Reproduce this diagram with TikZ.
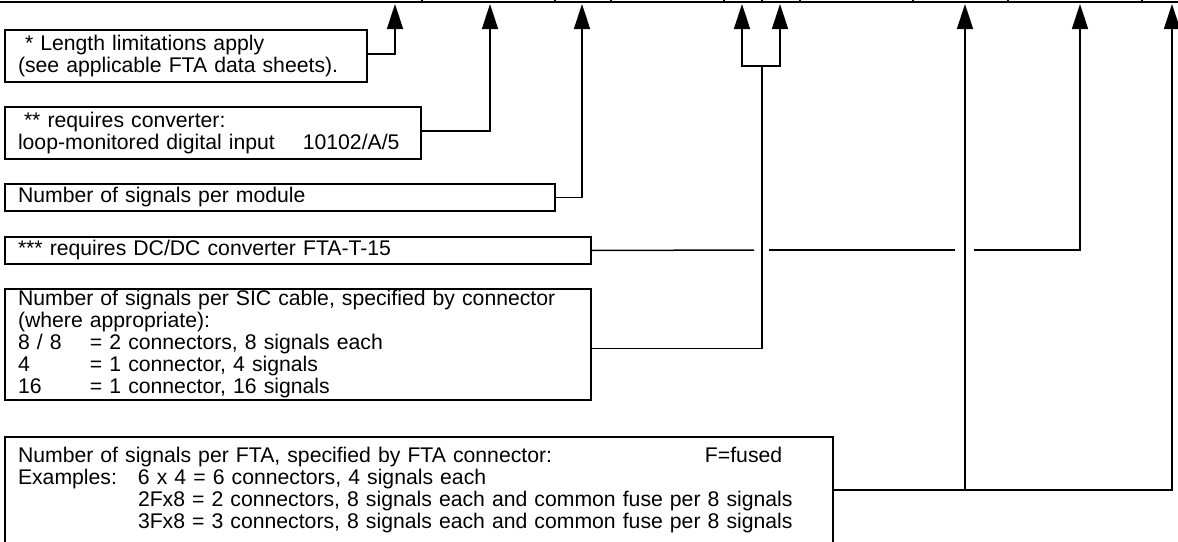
\documentclass[tikz,border=0pt]{standalone}
\usepackage{fontspec}
\setmainfont{Liberation Sans}
\usetikzlibrary{arrows.meta}
\begin{document}
\begin{tikzpicture}[x=1pt,y=-1pt,
  box/.style={draw,line width=2pt,anchor=north west,inner xsep=13pt,inner ysep=0pt,outer sep=0pt,align=left,font=\fontsize{21.2}{22}\selectfont},
  conn/.style={line width=1.5pt},
  arr/.style={conn,-{Triangle[length=25pt,width=16pt]}},
  toprule/.style={line width=2pt},
  tick/.style={line width=1.2pt}]
\useasboundingbox (0,0) rectangle (1178,541);
\clip (0,0) rectangle (1178,541);
% top rule with column ticks
\draw[toprule] (0,2) -- (1178,2);
\foreach \x in {422,555,611,724,762,800,913,1008,1142} \draw[tick] (\x,0) -- (\x,2);
% arrow tips
\coordinate (t1) at (395,4);
\coordinate (t2) at (490,4);
\coordinate (t3) at (582,4);
\coordinate (t4) at (742,4);
\coordinate (t5) at (780,4);
\coordinate (t6) at (965,4);
\coordinate (t7) at (1080,4);
\coordinate (t8) at (1172,4);
% boxes
\node[box,text width=336pt,minimum height=52pt] (b1) at (5,30)
  {\hspace*{7pt}* Length limitations apply\\(see applicable FTA data sheets).};
\node[box,text width=390pt,minimum height=52pt] (b2) at (5,107)
  {\hspace*{6pt}** requires converter:\\loop-monitored digital input\hspace*{28pt}10102/A/5};
\node[box,text width=524pt,minimum height=27pt] (b3) at (5,184)
  {Number of signals per module};
\node[box,text width=560pt,minimum height=27pt] (b4) at (5,237)
  {*** requires DC/DC converter FTA-T-15};
\node[box,text width=560pt,minimum height=111pt] (b5) at (5,289)
  {Number of signals per SIC cable, specified by connector\\(where appropriate):\\
   \makebox[72pt][l]{8 / 8}= 2 connectors, 8 signals each\\
   \makebox[72pt][l]{4}= 1 connector, 4 signals\\
   \makebox[72pt][l]{16}= 1 connector, 16 signals};
\node[box,text width=802pt,minimum height=106pt] (b6) at (5,437)
  {\makebox[687pt][l]{Number of signals per FTA, specified by FTA connector:}F=fused\\
   \makebox[120pt][l]{Examples:}6 x 4 = 6 connectors, 4 signals each\\
   \hspace*{120pt}2Fx8 = 2 connectors, 8 signals each and common fuse per 8 signals\\
   \hspace*{120pt}3Fx8 = 3 connectors, 8 signals each and common fuse per 8 signals};
% connectors
\draw[arr] ([yshift=2pt]b1.east) -| (t1);
\draw[arr] ([yshift=2pt]b2.east) -| (t2);
\draw[arr] (b3.east) -| (t3);
\coordinate (g1a) at (754,250);
\coordinate (g1b) at (769,250);
\coordinate (g2a) at (955,250);
\coordinate (g2b) at (974,250);
\draw[conn] (b4.east) -- (g1a);
\draw[conn] (g1b) -- (g2a);
\draw[arr] (g2b) -| (t7);
\coordinate (s5) at (762,66);
\draw[conn] ([yshift=-4pt]b5.east) -| (s5);
\draw[arr] (s5) -| (t4);
\draw[arr] (s5) -| (t5);
\coordinate (j6) at (965,490);
\draw[arr] (b6.east) -| (t8);
\draw[arr] (j6) -- (t6);
\end{tikzpicture}
\end{document}
